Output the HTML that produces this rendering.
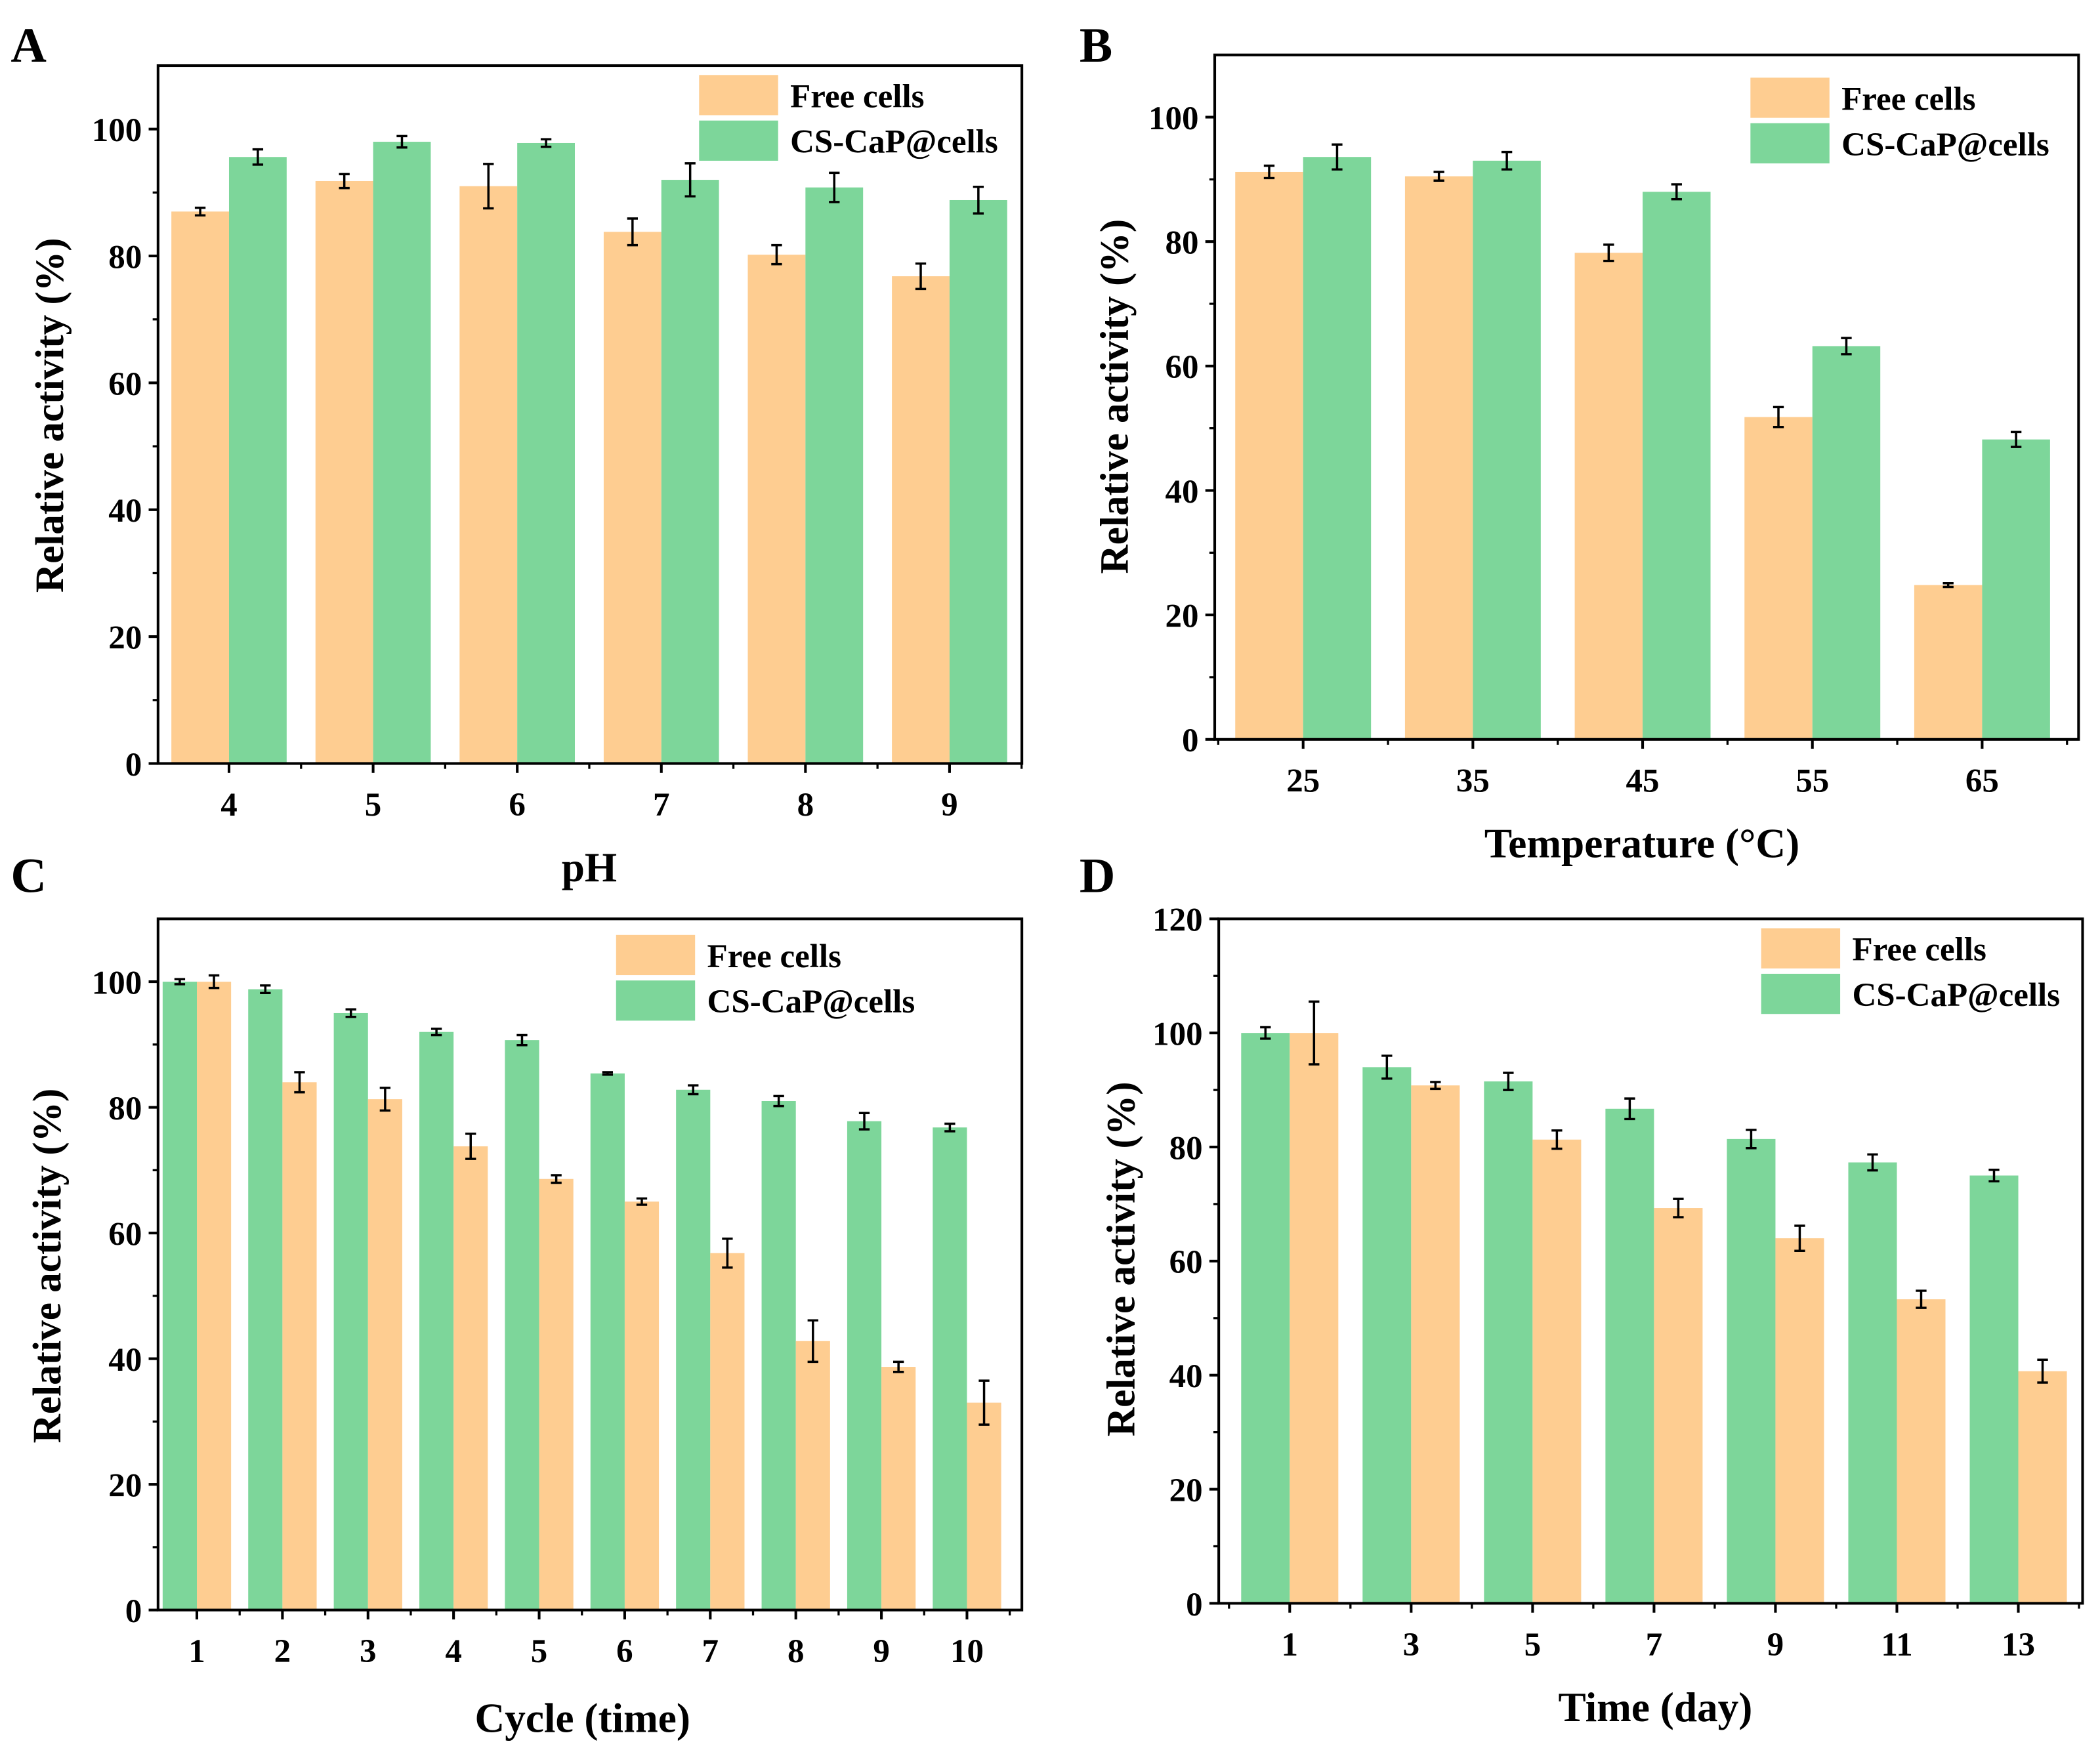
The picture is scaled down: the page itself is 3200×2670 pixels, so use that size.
<!DOCTYPE html>
<html><head><meta charset="utf-8"><style>
html,body{margin:0;padding:0;background:#fff;}
svg{display:block;}
text{font-family:"Liberation Serif",serif;font-weight:bold;fill:#000;}
</style></head><body>
<svg id="fig" width="3200" height="2670" viewBox="0 0 1568 1308" preserveAspectRatio="none" xmlns="http://www.w3.org/2000/svg"></svg>
<script>
// Panel A
const catsA = ["4","5","6","7","8","9"];
const freeA = [87, 91.8, 91, 83.8, 80.2, 76.8];
const freeErrA = [0.6, 1.1, 3.5, 2.1, 1.5, 2.0];
const csA = [95.6, 98, 97.8, 92, 90.8, 88.8];
const csErrA = [1.2, 0.9, 0.6, 2.6, 2.3, 2.1];
const yTicksA = [0,20,40,60,80,100];
// Panel B
const catsB = ["25","35","45","55","65"];
const freeB = [91.2, 90.5, 78.2, 51.8, 24.8];
const freeErrB = [1.0, 0.7, 1.3, 1.6, 0.3];
const csB = [93.6, 93, 88, 63.2, 48.2];
const csErrB = [2.0, 1.4, 1.2, 1.3, 1.2];
const yTicksB = [0,20,40,60,80,100];
// Panel C
const catsC = ["1","2","3","4","5","6","7","8","9","10"];
const csC = [100, 98.8, 95, 92, 90.7, 85.4, 82.8, 81, 77.8, 76.8];
const csErrC = [0.4, 0.6, 0.6, 0.5, 0.8, 0.2, 0.7, 0.8, 1.3, 0.6];
const freeC = [100, 84, 81.3, 73.8, 68.6, 65, 56.8, 42.8, 38.7, 33];
const freeErrC = [1.0, 1.6, 1.8, 2.0, 0.6, 0.5, 2.3, 3.3, 0.8, 3.5];
const yTicksC = [0,20,40,60,80,100];
// Panel D
const catsD = ["1","3","5","7","9","11","13"];
const csD = [100, 94, 91.5, 86.7, 81.4, 77.3, 75];
const csErrD = [1.0, 2.0, 1.5, 1.8, 1.6, 1.4, 1.0];
const freeD = [100, 90.8, 81.3, 69.3, 64, 53.3, 40.7];
const freeErrD = [5.5, 0.6, 1.6, 1.6, 2.2, 1.5, 2.0];
const yTicksD = [0,20,40,60,80,100,120];

const NS = "http://www.w3.org/2000/svg";
const svg = document.getElementById('fig');
const ORANGE = "#FECD91", GREEN = "#7DD69A";
function mk(tag, attrs, parent){
  const e = document.createElementNS(NS, tag);
  for (const k in attrs) e.setAttribute(k, attrs[k]);
  (parent||svg).appendChild(e);
  return e;
}
function panel(p){
  const g = mk('g', {});
  
  
  const yScale = v => p.bottom - (v / p.ymax) * (p.bottom - p.top);
  const n = p.cats.length;
  const step = (p.xLast - p.xFirst) / (n - 1);
  const xScale = i => p.xFirst + step * i;
  const bw = step * 0.4;
  p.series.forEach((s, si) => {
    s.vals.forEach((v, i) => {
      const x0 = xScale(i) - bw + si * bw;
      const r = mk('rect', {x:x0, y:yScale(v), width:bw, height:p.bottom - yScale(v), fill:s.color}, g);
      
      
      const cx = x0 + bw/2, e = s.errs[i];
      const eb = mk('path', {d:`M${cx},${yScale(v+e)}V${yScale(v-e)}M${cx-4},${yScale(v+e)}H${cx+4}M${cx-4},${yScale(v-e)}H${cx+4}`, stroke:'#000', 'stroke-width':1.7, fill:'none'}, g);
      
      
    });
  });
  const fr = mk('rect', {x:p.left, y:p.top, width:p.right-p.left, height:p.bottom-p.top, fill:'none', stroke:'#000', 'stroke-width':2}, g);
  
  
  p.yticks.forEach((t, i) => {
    const y = yScale(t);
    mk('line', {x1:p.left-7, x2:p.left, y1:y, y2:y, stroke:'#000', 'stroke-width':2}, g);
    if (i < p.yticks.length - 1) {
      const ym = yScale(t + (p.yticks[1]-p.yticks[0])/2);
      mk('line', {x1:p.left-4, x2:p.left, y1:ym, y2:ym, stroke:'#000', 'stroke-width':1.6}, g);
    }
    const tl = mk('text', {x:p.left-12, y:y+9, 'text-anchor':'end', 'font-size':25}, g);
    tl.textContent = t;
    
    
  });
  for (let i = 0; i < n; i++) {
    const x = xScale(i);
    mk('line', {x1:x, x2:x, y1:p.bottom, y2:p.bottom+7, stroke:'#000', 'stroke-width':2}, g);
    const xm = x - step/2;
    if (xm > p.left) mk('line', {x1:xm, x2:xm, y1:p.bottom, y2:p.bottom+4, stroke:'#000', 'stroke-width':1.6}, g);
    const tl = mk('text', {x:x, y:p.bottom+39, 'text-anchor':'middle', 'font-size':25}, g);
    tl.textContent = p.cats[i];
    
    
  }
  const xmLast = xScale(n-1) + step/2;
  if (xmLast < p.right) mk('line', {x1:xmLast, x2:xmLast, y1:p.bottom, y2:p.bottom+4, stroke:'#000', 'stroke-width':1.6}, g);
  const yt = mk('text', {x:0, y:0, 'text-anchor':'middle', 'font-size':30, transform:`translate(${p.ytx},${p.yty}) rotate(-90)`}, g);
  yt.textContent = 'Relative activity (%)';
  
  
  const xt = mk('text', {x:p.xtx, y:p.xty, 'text-anchor':'middle', 'font-size':31}, g);
  xt.textContent = p.xtitle;
  
  
  const lt = mk('text', {x:p.lx, y:p.ly, 'font-size':37}, g);
  lt.textContent = p.letter;
  
  
  const leg = mk('g', {}, g);
  
  
  [['Free cells', ORANGE], ['CS-CaP@cells', GREEN]].forEach((it, k) => {
    const y0 = p.legY + k*34;
    const sw = mk('rect', {x:p.legX, y:y0, width:59, height:30, fill:it[1]}, leg);
    
    
    const tx = mk('text', {x:p.legX+68, y:y0+24, 'font-size':25}, leg);
    tx.textContent = it[0];
    
    
  });
}
panel({name:'panel-a', letter:'A', lx:8, ly:46, left:118, right:763, top:49, bottom:570, ymax:110, xFirst:171, xLast:709, cats:catsA, yticks:yTicksA,
  series:[{key:'free', vals:freeA, errs:freeErrA, color:ORANGE},{key:'cs', vals:csA, errs:csErrA, color:GREEN}],
  ytx:47, yty:310, xtitle:'pH', xtx:440, xty:658, legX:522, legY:56});
panel({name:'panel-b', letter:'B', lx:806, ly:46, left:907, right:1552, top:41, bottom:552, ymax:110, xFirst:973, xLast:1480, cats:catsB, yticks:yTicksB,
  series:[{key:'free', vals:freeB, errs:freeErrB, color:ORANGE},{key:'cs', vals:csB, errs:csErrB, color:GREEN}],
  ytx:842, yty:296, xtitle:'Temperature (\u00B0C)', xtx:1226, xty:640, legX:1307, legY:58});
panel({name:'panel-c', letter:'C', lx:8, ly:666, left:118, right:763, top:686, bottom:1202, ymax:110, xFirst:147, xLast:722, cats:catsC, yticks:yTicksC,
  series:[{key:'cs', vals:csC, errs:csErrC, color:GREEN},{key:'free', vals:freeC, errs:freeErrC, color:ORANGE}],
  ytx:45, yty:945, xtitle:'Cycle (time)', xtx:435, xty:1293, legX:460, legY:698});
panel({name:'panel-d', letter:'D', lx:806, ly:666, left:910, right:1555, top:686, bottom:1197, ymax:120, xFirst:963, xLast:1507, cats:catsD, yticks:yTicksD,
  series:[{key:'cs', vals:csD, errs:csErrD, color:GREEN},{key:'free', vals:freeD, errs:freeErrD, color:ORANGE}],
  ytx:847, yty:940, xtitle:'Time (day)', xtx:1236, xty:1285, legX:1315, legY:693});
</script>
</body></html>
